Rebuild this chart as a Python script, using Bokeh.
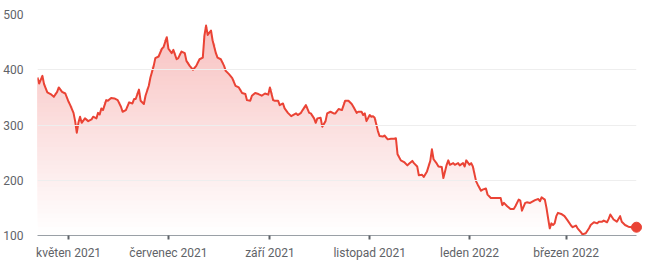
import pandas as pd
from bokeh.plotting import figure
from bokeh.models import Range1d, FixedTicker
from bokeh.embed import file_html
from bokeh.resources import INLINE

dates = [
    "2021-04-12", "2021-04-13", "2021-04-15", "2021-04-16", "2021-04-18", "2021-04-20",
    "2021-04-22", "2021-04-24", "2021-04-25", "2021-04-27", "2021-04-29", "2021-05-01",
    "2021-05-02", "2021-05-04", "2021-05-05", "2021-05-06", "2021-05-07", "2021-05-08",
    "2021-05-09", "2021-05-11", "2021-05-13", "2021-05-15", "2021-05-16", "2021-05-18",
    "2021-05-19", "2021-05-20", "2021-05-21", "2021-05-22", "2021-05-24", "2021-05-25",
    "2021-05-27", "2021-05-29", "2021-05-31", "2021-06-02", "2021-06-03", "2021-06-05",
    "2021-06-07", "2021-06-09", "2021-06-10", "2021-06-11", "2021-06-13", "2021-06-14",
    "2021-06-16", "2021-06-17", "2021-06-19", "2021-06-20", "2021-06-22", "2021-06-23",
    "2021-06-25", "2021-06-27", "2021-06-28", "2021-06-30", "2021-07-01", "2021-07-03",
    "2021-07-04", "2021-07-06", "2021-07-07", "2021-07-09", "2021-07-11", "2021-07-12",
    "2021-07-14", "2021-07-16", "2021-07-18", "2021-07-20", "2021-07-22", "2021-07-23",
    "2021-07-24", "2021-07-25", "2021-07-27", "2021-07-28", "2021-07-30", "2021-07-31",
    "2021-08-02", "2021-08-04", "2021-08-05", "2021-08-07", "2021-08-09", "2021-08-11",
    "2021-08-13", "2021-08-15", "2021-08-17", "2021-08-18", "2021-08-20", "2021-08-21",
    "2021-08-23", "2021-08-25", "2021-08-27", "2021-08-29", "2021-08-31", "2021-09-01",
    "2021-09-03", "2021-09-04", "2021-09-06", "2021-09-07", "2021-09-09", "2021-09-10",
    "2021-09-12", "2021-09-14", "2021-09-17", "2021-09-18", "2021-09-20", "2021-09-21",
    "2021-09-23", "2021-09-25", "2021-09-26", "2021-09-28", "2021-09-29", "2021-09-30",
    "2021-10-02", "2021-10-03", "2021-10-05", "2021-10-06", "2021-10-08", "2021-10-10",
    "2021-10-11", "2021-10-13", "2021-10-15", "2021-10-17", "2021-10-19", "2021-10-21",
    "2021-10-22", "2021-10-24", "2021-10-25", "2021-10-27", "2021-10-28", "2021-10-29",
    "2021-10-30", "2021-11-01", "2021-11-02", "2021-11-03", "2021-11-04", "2021-11-06",
    "2021-11-07", "2021-11-09", "2021-11-10", "2021-11-12", "2021-11-14", "2021-11-16",
    "2021-11-17", "2021-11-18", "2021-11-20", "2021-11-22", "2021-11-24", "2021-11-25",
    "2021-11-27", "2021-11-28", "2021-11-30", "2021-12-01", "2021-12-03", "2021-12-04",
    "2021-12-06", "2021-12-08", "2021-12-09", "2021-12-10", "2021-12-12", "2021-12-13",
    "2021-12-15", "2021-12-16", "2021-12-17", "2021-12-18", "2021-12-19", "2021-12-20",
    "2021-12-22", "2021-12-23", "2021-12-25", "2021-12-26", "2021-12-28", "2021-12-29",
    "2021-12-30", "2022-01-01", "2022-01-02", "2022-01-03", "2022-01-05", "2022-01-06",
    "2022-01-08", "2022-01-09", "2022-01-11", "2022-01-12", "2022-01-14", "2022-01-17",
    "2022-01-20", "2022-01-21", "2022-01-22", "2022-01-24", "2022-01-26", "2022-01-28",
    "2022-01-29", "2022-01-31", "2022-02-01", "2022-02-02", "2022-02-04", "2022-02-05",
    "2022-02-07", "2022-02-10", "2022-02-12", "2022-02-13", "2022-02-14", "2022-02-16",
    "2022-02-17", "2022-02-18", "2022-02-19", "2022-02-20", "2022-02-21", "2022-02-22",
    "2022-02-23", "2022-02-24", "2022-02-26", "2022-02-28", "2022-03-02", "2022-03-04",
    "2022-03-05", "2022-03-07", "2022-03-08", "2022-03-10", "2022-03-11", "2022-03-13",
    "2022-03-15", "2022-03-16", "2022-03-18", "2022-03-20", "2022-03-21", "2022-03-23",
    "2022-03-24", "2022-03-26", "2022-03-27", "2022-03-28", "2022-03-30", "2022-04-01",
    "2022-04-03", "2022-04-04", "2022-04-06", "2022-04-08", "2022-04-10", "2022-04-13",
]

prices = [
    386, 375, 389, 374, 359, 356,
    351, 360, 368, 360, 357, 342,
    336, 322, 307, 286, 304, 315,
    304, 312, 307, 310, 315, 312,
    322, 319, 330, 327, 345, 344,
    349, 348, 345, 333, 324, 327,
    341, 339, 347, 347, 364, 344,
    338, 353, 371, 386, 407, 421,
    424, 438, 441, 459, 438, 430,
    436, 419, 421, 433, 430, 416,
    407, 400, 407, 419, 422, 462,
    480, 463, 471, 453, 430, 422,
    419, 407, 398, 392, 385, 371,
    368, 358, 356, 345, 344, 353,
    358, 356, 353, 357, 355, 368,
    345, 344, 344, 336, 339, 330,
    322, 316, 321, 318, 322, 327,
    336, 322, 321, 312, 304, 312,
    313, 297, 307, 321, 324, 321,
    321, 329, 327, 344, 344, 338,
    333, 322, 324, 324, 318, 321,
    307, 318, 315, 316, 313, 289,
    280, 279, 281, 274, 275, 275,
    276, 247, 236, 233, 227, 230,
    235, 231, 225, 209, 210, 206,
    216, 235, 256, 238, 230, 225,
    224, 204, 216, 228, 236, 228,
    231, 228, 231, 227, 231, 225,
    236, 228, 231, 225, 198, 192,
    181, 183, 185, 174, 168, 168,
    168, 155, 159, 153, 148, 148,
    153, 165, 163, 145, 159, 160,
    159, 164, 166, 162, 169, 165,
    150, 131, 113, 122, 119, 122,
    135, 141, 139, 135, 127, 118,
    115, 118, 113, 106, 102, 104,
    113, 119, 124, 122, 125, 125,
    127, 124, 130, 138, 129, 125,
    135, 125, 119, 116, 115, 115,
]

tick_dates = ["2021-05-01", "2021-07-01", "2021-09-01", "2021-11-01", "2022-01-01", "2022-03-01"]
tick_labels = ["květen 2021", "červenec 2021", "září 2021", "listopad 2021", "leden 2022", "březen 2022"]
y_ticks = [100, 200, 300, 400, 500]

RED = "#ea4335"
RED_RGB = (232, 60, 58)
TEXT = "#5f6368"

x = pd.to_datetime(dates)

p = figure(width=650, height=271, x_axis_type="datetime",
           output_backend="svg", toolbar_location=None,
           x_range=Range1d(x[0], x[-1]), y_range=Range1d(100, 500),
           min_border_left=35, min_border_right=14,
           min_border_top=14, min_border_bottom=36)
p.outline_line_color = None
p.background_fill_color = "white"
p.border_fill_color = "white"


def blend(a):
    r, g, b = (round(255 + (c - 255) * a) for c in RED_RGB)
    return "#%02x%02x%02x" % (r, g, b)


# vertical gradient fill: opaque stacked layers, each drawn over the previous
for lv in range(100, 500, 8):
    a = 0.34 * (lv - 100) / 400.0
    if a < 0.004:
        a = 0.004
    upper = [max(v, lv) for v in prices]
    p.varea(x=x, y1=lv, y2=upper, fill_color=blend(a), fill_alpha=1.0)

p.line(x, prices, line_color=RED, line_width=2, line_join="round")
p.scatter([x[-1]], [prices[-1]], size=10, color=RED, level="overlay")

# grid
p.xgrid.visible = False
p.ygrid.ticker = FixedTicker(ticks=y_ticks)
p.ygrid.grid_line_color = "#eeeeee"
p.ygrid.grid_line_width = 1
p.ygrid.level = "glyph"

# y axis
p.yaxis.ticker = FixedTicker(ticks=y_ticks)
p.yaxis.axis_line_color = None
p.yaxis.major_tick_line_color = None
p.yaxis.minor_tick_line_color = None
p.yaxis.major_label_text_font = "Roboto"
p.yaxis.major_label_text_font_size = "12px"
p.yaxis.major_label_text_color = TEXT
p.yaxis.major_label_standoff = 8

# x axis
tick_ms = [int(pd.Timestamp(d).value // 10**6) for d in tick_dates]
p.xaxis.ticker = FixedTicker(ticks=tick_ms)
p.xaxis.major_label_overrides = {t: lab for t, lab in zip(tick_ms, tick_labels)}
p.xaxis.axis_line_color = "#9aa0a6"
p.xaxis.axis_line_width = 1
p.xaxis.major_tick_line_color = "#5f6368"
p.xaxis.major_tick_line_width = 2
p.xaxis.major_tick_in = 0
p.xaxis.major_tick_out = 4
p.xaxis.minor_tick_line_color = None
p.xaxis.major_label_text_font = "Roboto"
p.xaxis.major_label_text_font_size = "12px"
p.xaxis.major_label_text_color = TEXT
p.xaxis.major_label_standoff = 6

open("out.html", "w").write(file_html(p, INLINE))
